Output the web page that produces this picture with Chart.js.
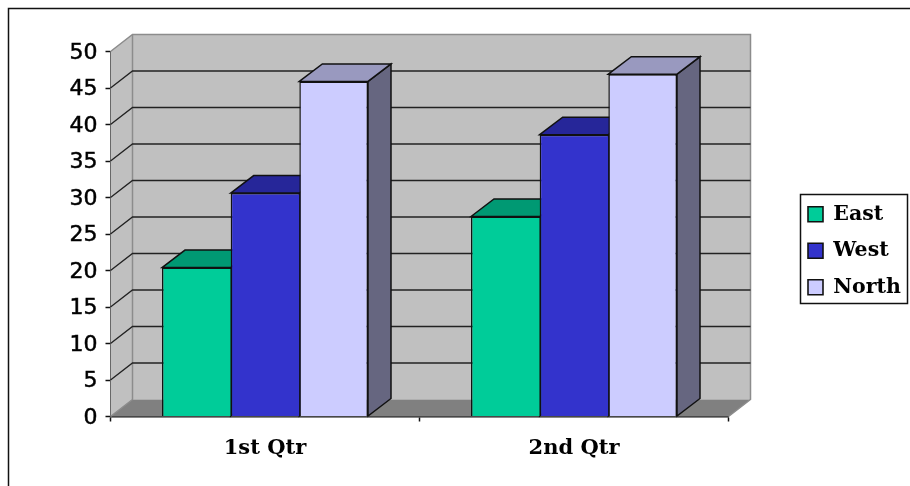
<!DOCTYPE html>
<html>
<head>
<meta charset="utf-8">
<style>html,body{margin:0;padding:0;background:#fff}canvas{display:block}</style>
<script src="https://cdn.jsdelivr.net/npm/chart.js@4/dist/chart.umd.js"></script>
</head>
<body>
<canvas id="c" width="910" height="486"></canvas>
<script>
const categories = ['1st Qtr', '2nd Qtr'];
const east = [20.4, 27.4];
const west = [30.6, 38.6];
const north = [45.9, 46.9];
const yTicks = [0, 5, 10, 15, 20, 25, 30, 35, 40, 45, 50];

const seriesNames = ['East', 'West', 'North'];
const frontColors = ['#00CC99', '#3333CC', '#CCCCFF'];
const topColors = ['#009973', '#262699', '#9999BF'];
const sideColors = ['#006B50', '#1A1A66', '#666680'];

const wallDX = 22, wallDY = 17;
const barDX = 23, barDY = 17.5;
const INK = '#111';

function poly(ctx, pts, fill, stroke, lw) {
  ctx.beginPath();
  pts.forEach((p, i) => i ? ctx.lineTo(p[0], p[1]) : ctx.moveTo(p[0], p[1]));
  ctx.closePath();
  if (fill) { ctx.fillStyle = fill; ctx.fill(); }
  if (stroke) { ctx.strokeStyle = stroke; ctx.lineWidth = lw || 1; ctx.stroke(); }
}

const scene3d = {
  id: 'scene3d',
  afterInit(chart) {
    const l = chart.legend, fit = l.fit;
    l.fit = function () { fit.call(this); this.width = 181.5; };
  },
  afterLayout(chart) {
    const l = chart.legend;
    const dx = 792 - l.left, dy = 188 - l.top;
    l.left += dx; l.right += dx; l.top += dy; l.bottom += dy;
    l.legendHitBoxes.forEach(b => { b.left += dx; b.top += dy; });
  },
  beforeDraw(chart) {
    const ctx = chart.ctx;
    ctx.save();
    ctx.fillStyle = '#fff';
    ctx.fillRect(0, 0, chart.width, chart.height);
    ctx.strokeStyle = '#111';
    ctx.lineWidth = 1.5;
    ctx.beginPath();
    ctx.moveTo(8.5, chart.height); ctx.lineTo(8.5, 8.5); ctx.lineTo(chart.width, 8.5);
    ctx.stroke();
    // legend frame
    ctx.strokeRect(800.5, 194.5, 107, 109);
    ctx.restore();
  },
  beforeDatasetsDraw(chart) {
    const ctx = chart.ctx, a = chart.chartArea, y = chart.scales.y;
    const L = a.left, R = a.right, T = y.getPixelForValue(50), B = y.getPixelForValue(0);
    ctx.save();
    // walls and floor
    poly(ctx, [[L, T], [L + wallDX, T - wallDY], [L + wallDX, B - wallDY], [L, B]], '#C0C0C0');
    poly(ctx, [[L + wallDX, T - wallDY], [R + wallDX, T - wallDY], [R + wallDX, B - wallDY], [L + wallDX, B - wallDY]], '#C0C0C0');
    poly(ctx, [[L, B], [L + wallDX, B - wallDY], [R + wallDX, B - wallDY], [R, B]], '#808080');
    ctx.strokeStyle = '#8C8C8C'; ctx.lineWidth = 1.5;
    ctx.beginPath();
    ctx.moveTo(L, T); ctx.lineTo(L + wallDX, T - wallDY); ctx.lineTo(R + wallDX, T - wallDY); ctx.lineTo(R + wallDX, B - wallDY); ctx.lineTo(R, B);
    ctx.moveTo(L + wallDX, T - wallDY); ctx.lineTo(L + wallDX, B - wallDY); ctx.lineTo(L, B);
    ctx.stroke();
    // gridlines
    ctx.strokeStyle = '#222'; ctx.lineWidth = 1.3;
    ctx.beginPath();
    yTicks.forEach(v => {
      if (v === 0 || v === 50) return;
      const p = y.getPixelForValue(v);
      ctx.moveTo(L, p); ctx.lineTo(L + wallDX, p - wallDY); ctx.lineTo(R + wallDX, p - wallDY);
    });
    ctx.stroke();
    // bar side and top faces
    chart.data.datasets.forEach((ds, di) => {
      chart.getDatasetMeta(di).data.forEach(bar => {
        const p = bar.getProps(['x', 'y', 'base', 'width'], true);
        const l = p.x - p.width / 2, r = p.x + p.width / 2;
        poly(ctx, [[r, p.y], [r + barDX, p.y - barDY], [r + barDX, p.base - barDY], [r, p.base]], sideColors[di], INK, 1.5);
        poly(ctx, [[l, p.y], [l + barDX, p.y - barDY], [r + barDX, p.y - barDY], [r, p.y]], topColors[di], INK, 1.5);
      });
    });
    ctx.restore();
  }
};

new Chart(document.getElementById('c'), {
  type: 'bar',
  data: {
    labels: categories,
    datasets: [east, west, north].map((values, i) => ({
      label: seriesNames[i],
      data: values,
      backgroundColor: frontColors[i],
      borderColor: INK,
      borderWidth: { top: 1.5, left: 1.5, right: i === 2 ? 1.5 : 0, bottom: 0 },
      borderSkipped: false
    }))
  },
  options: {
    responsive: false,
    animation: false,
    devicePixelRatio: 1,
    layout: { padding: { top: 51.5, left: 0, right: 0, bottom: 0 } },
    datasets: { bar: { categoryPercentage: 2 / 3, barPercentage: 1 } },
    plugins: {
      tooltip: { enabled: false },
      legend: {
        position: 'right',
        align: 'start',
        labels: {
          color: '#000',
          font: { family: '"DejaVu Serif"', size: 20.5, weight: 'bold', lineHeight: 1.2 },
          boxWidth: 15,
          boxHeight: 15,
          padding: 16,
          generateLabels(chart) {
            return Chart.defaults.plugins.legend.labels.generateLabels(chart).map(item => ({
              ...item, lineWidth: 1.6, strokeStyle: INK
            }));
          }
        }
      }
    },
    scales: {
      x: {
        afterFit(s) { s.height = 69.5; },
        grid: { drawOnChartArea: false, tickLength: 5, color: INK, tickWidth: 1.5 },
        border: { color: INK, width: 1.5 },
        ticks: { color: '#000', padding: 14, font: { family: '"DejaVu Serif"', size: 21, weight: 'bold' } }
      },
      y: {
        min: 0,
        max: 50,
        afterFit(s) { s.width = 110.5; },
        afterBuildTicks(s) { s.ticks = yTicks.map(v => ({ value: v })); },
        grid: { drawOnChartArea: false, tickLength: 5, color: INK, tickWidth: 1.5 },
        border: { color: INK, width: 1.5 },
        ticks: { color: '#000', padding: 8, labelOffset: 1.5, textStrokeColor: '#000', textStrokeWidth: 0.5, font: { family: '"DejaVu Sans"', size: 22 } }
      }
    }
  },
  plugins: [scene3d]
});
</script>
</body>
</html>
